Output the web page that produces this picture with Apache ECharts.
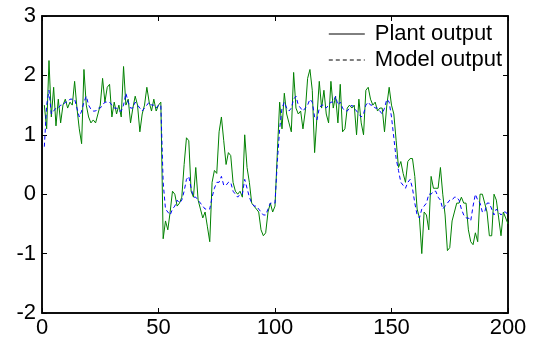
<!DOCTYPE html>
<html>
<head>
<meta charset="utf-8">
<script src="https://cdn.jsdelivr.net/npm/echarts@6/dist/echarts.min.js"></script>
<style>html,body{margin:0;padding:0;background:#fff}#c{width:537px;height:344px}</style>
</head>
<body>
<div id="c"></div>
<script>
// sample index runs 1..200
var plantOutput = [
1.5,1.1,2.25,1.3,1.8,1.15,1.6,1.2,1.5,1.6,
1.45,1.55,1.5,1.9,1.45,1.1,0.85,2.1,1.5,1.3,
1.2,1.25,1.2,1.35,1.5,1.95,1.55,1.8,1.85,1.3,
1.55,1.35,1.5,1.3,2.15,1.5,1.6,1.2,1.45,1.65,
1.5,1.05,1.35,1.5,1.8,1.55,1.4,1.6,1.4,1.5,
1.55,-0.75,-0.45,-0.6,-0.3,0.05,0.0,-0.2,-0.15,-0.05,
0.5,0.95,0.9,0.05,-0.05,0.45,-0.1,-0.25,-0.4,-0.3,
-0.55,-0.8,0.2,0.4,0.35,1.05,1.3,0.9,0.5,0.7,
0.65,0.2,0.05,0.0,0.05,-0.05,1.0,0.45,0.2,-0.15,
-0.2,-0.25,-0.3,-0.6,-0.7,-0.65,-0.3,-0.15,-0.3,-0.2,
0.7,1.55,1.1,1.7,1.35,1.2,1.05,2.05,1.45,1.35,
1.4,1.1,1.4,1.95,2.1,1.75,0.7,1.3,1.9,1.45,
1.75,1.35,1.2,1.9,1.45,1.65,1.2,1.85,1.05,1.1,
1.45,1.5,1.45,1.5,1.0,1.6,1.2,1.0,1.75,1.8,
1.6,1.5,1.55,1.4,1.45,1.45,1.05,1.5,1.8,1.5,
1.35,0.9,0.45,0.55,0.35,0.2,0.55,0.6,0.6,0.3,
-0.25,-0.4,-1.0,-0.3,-0.35,-0.6,0.3,0.1,0.1,0.1,
0.45,0.0,-0.35,-0.95,-0.9,-0.45,-0.3,-0.15,-0.15,-0.05,
-0.15,-0.15,-0.6,-0.8,-0.85,-0.65,-0.8,0.0,0.0,-0.15,
-0.3,-0.7,-0.7,0.0,-0.1,-0.4,-0.7,-0.3,-0.4,-0.5
];
var modelOutput = [
0.8,1.5,1.75,1.35,1.4,1.45,1.45,1.5,1.5,1.55,
1.55,1.6,1.6,1.6,1.45,1.3,1.4,1.55,1.65,1.5,
1.43,1.4,1.4,1.45,1.45,1.5,1.55,1.55,1.55,1.5,
1.45,1.45,1.4,1.4,1.5,1.7,1.55,1.45,1.45,1.55,
1.5,1.45,1.4,1.45,1.5,1.55,1.5,1.5,1.45,1.5,
1.5,0.2,-0.25,-0.3,-0.35,-0.25,-0.2,-0.1,-0.15,-0.1,
0.05,0.25,0.3,0.1,-0.05,-0.05,-0.1,-0.15,-0.2,-0.25,
-0.25,-0.25,-0.05,0.1,0.2,0.2,0.3,0.15,0.15,0.2,
0.2,0.05,0.0,-0.05,0.0,0.0,0.25,0.1,-0.05,-0.15,
-0.2,-0.2,-0.25,-0.3,-0.35,-0.35,-0.25,-0.15,-0.15,-0.15,
0.55,1.1,1.45,1.55,1.45,1.4,1.45,1.6,1.65,1.5,
1.45,1.4,1.45,1.5,1.6,1.55,1.3,1.25,1.45,1.5,
1.5,1.45,1.5,1.55,1.55,1.65,1.5,1.55,1.45,1.4,
1.4,1.45,1.5,1.45,1.4,1.35,1.3,1.35,1.5,1.55,
1.5,1.5,1.45,1.45,1.4,1.35,1.45,1.6,1.55,1.3,
0.95,0.6,0.4,0.2,0.15,0.1,0.2,0.25,0.1,-0.15,
-0.35,-0.4,-0.25,-0.2,-0.15,0.0,0.0,0.05,0.05,-0.05,
-0.1,-0.25,-0.2,-0.15,-0.1,-0.1,-0.05,-0.05,-0.1,-0.25,
-0.35,-0.4,-0.4,-0.45,-0.2,0.0,-0.1,-0.15,-0.3,-0.3,
-0.15,-0.15,-0.25,-0.35,-0.25,-0.3,-0.35,-0.3,-0.3,-0.35
];
var seriesNames = ['Plant output', 'Model output'];
var xTicks = [0, 50, 100, 150, 200];
var yTicks = [-2, -1, 0, 1, 2, 3];

function pairs(arr) { return arr.map(function (v, i) { return [i + 1, v]; }); }

var font = "'Liberation Sans', Arial, sans-serif";
function mkAxis(kind, position, labels) {
  var ticks = kind === 'x' ? xTicks : yTicks;
  return {
    type: 'value',
    min: ticks[0],
    max: ticks[ticks.length - 1],
    interval: ticks[1] - ticks[0],
    position: position,
    axisLine: { show: true, onZero: false, lineStyle: { color: '#000', width: 1.5 } },
    axisTick: { show: true, inside: true, length: 5, lineStyle: { color: '#000', width: 1 } },
    splitLine: { show: false },
    axisLabel: labels
      ? { show: true, color: '#000', fontFamily: font, fontSize: 22, margin: kind === 'x' ? 4 : 6 }
      : { show: false }
  };
}
var chart = echarts.init(document.getElementById('c'), null, { renderer: 'canvas' });
chart.setOption({
  animation: false,
  grid: { left: 42, right: 29, top: 16, bottom: 31, show: true, borderColor: '#000', borderWidth: 1.5 },
  legend: {
    data: [
      { name: seriesNames[0], itemStyle: { opacity: 0 }, lineStyle: { color: '#000', width: 1, type: 'solid' } },
      { name: seriesNames[1], itemStyle: { opacity: 0 }, lineStyle: { color: '#000', width: 1, type: [4, 3] } }
    ],
    orient: 'vertical',
    right: 30,
    top: 18,
    itemWidth: 36,
    itemHeight: 14,
    itemGap: 4,
    itemStyle: { opacity: 0 },
    lineStyle: { color: '#000', width: 1 },
    textStyle: { fontFamily: font, fontSize: 22, color: '#000', padding: [0, 0, 0, 5] }
  },
  xAxis: [mkAxis('x', 'bottom', true), mkAxis('x', 'top', false)],
  yAxis: [mkAxis('y', 'left', true), mkAxis('y', 'right', false)],
  series: [
    { name: seriesNames[0], type: 'line', data: pairs(plantOutput), symbol: 'none', xAxisIndex: 0, yAxisIndex: 0,
      lineStyle: { color: '#008000', width: 1 }, itemStyle: { color: '#008000' }, z: 2 },
    { name: seriesNames[1], type: 'line', data: pairs(modelOutput), symbol: 'none', xAxisIndex: 0, yAxisIndex: 0,
      lineStyle: { color: '#0000ff', width: 1, type: [4, 3] }, itemStyle: { color: '#0000ff' }, z: 3 }
  ]
});
</script>
</body>
</html>
